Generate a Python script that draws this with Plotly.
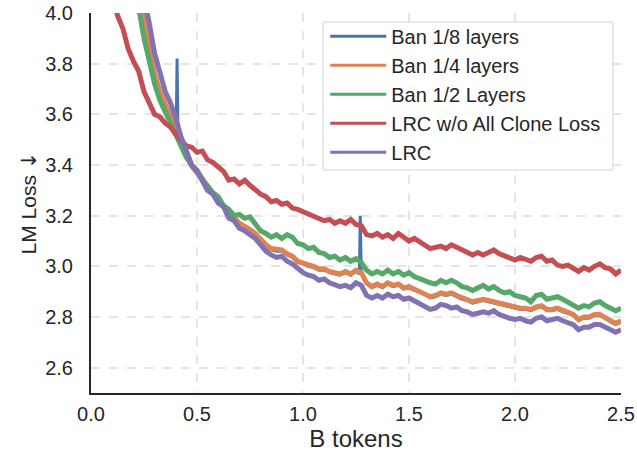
import plotly.graph_objects as go

tokens = [0.100, 0.125, 0.150, 0.175, 0.200, 0.225, 0.250, 0.275, 0.300, 0.325,
          0.350, 0.375, 0.400, 0.425, 0.450, 0.475, 0.500, 0.525, 0.550, 0.575,
          0.600, 0.625, 0.650, 0.675, 0.700, 0.725, 0.750, 0.775, 0.800, 0.825,
          0.850, 0.875, 0.900, 0.925, 0.950, 0.975, 1.000, 1.025, 1.050, 1.075,
          1.100, 1.125, 1.150, 1.175, 1.200, 1.225, 1.250, 1.275, 1.300, 1.325,
          1.350, 1.375, 1.400, 1.425, 1.450, 1.475, 1.500, 1.525, 1.550, 1.575,
          1.600, 1.625, 1.650, 1.675, 1.700, 1.725, 1.750, 1.775, 1.800, 1.825,
          1.850, 1.875, 1.900, 1.925, 1.950, 1.975, 2.000, 2.025, 2.050, 2.075,
          2.100, 2.125, 2.150, 2.175, 2.200, 2.225, 2.250, 2.275, 2.300, 2.325,
          2.350, 2.375, 2.400, 2.425, 2.450, 2.475, 2.500]

ban_1_8 = [4.71, 4.56, 4.41, 4.28, 4.17, 4.085, 3.995, 3.875, 3.76, 3.69,
           3.635, 3.585, 3.535, 3.50, 3.44, 3.395, 3.37, 3.34, 3.30, 3.285,
           3.25, 3.235, 3.20, 3.19, 3.165, 3.155, 3.14, 3.125, 3.10, 3.08,
           3.065, 3.06, 3.06, 3.045, 3.035, 3.015, 3.01, 3.00, 2.995, 2.985,
           2.985, 2.975, 2.97, 2.965, 2.975, 2.965, 2.98, 2.97, 2.93, 2.915,
           2.925, 2.915, 2.93, 2.92, 2.925, 2.91, 2.915, 2.905, 2.90, 2.89,
           2.875, 2.88, 2.89, 2.885, 2.89, 2.88, 2.87, 2.865, 2.855, 2.86,
           2.865, 2.86, 2.855, 2.85, 2.845, 2.84, 2.835, 2.83, 2.83, 2.825,
           2.835, 2.84, 2.825, 2.825, 2.83, 2.82, 2.815, 2.805, 2.785, 2.795,
           2.795, 2.805, 2.805, 2.795, 2.78, 2.77, 2.78]
spike_tokens = [0.402, 0.406, 0.410, 0.416, 1.266, 1.270, 1.274]
spike_loss = [3.53, 3.82, 3.55, 3.51, 2.97, 3.20, 2.98]

ban_1_4 = [4.72, 4.57, 4.42, 4.29, 4.18, 4.09, 4.00, 3.88, 3.76, 3.69,
           3.64, 3.59, 3.54, 3.49, 3.44, 3.395, 3.37, 3.345, 3.30, 3.29,
           3.255, 3.24, 3.205, 3.195, 3.17, 3.16, 3.145, 3.13, 3.105, 3.085,
           3.07, 3.065, 3.065, 3.05, 3.04, 3.02, 3.015, 3.005, 3.00, 2.99,
           2.99, 2.98, 2.975, 2.97, 2.98, 2.97, 2.985, 2.975, 2.935, 2.92,
           2.93, 2.92, 2.935, 2.925, 2.93, 2.915, 2.92, 2.91, 2.905, 2.895,
           2.88, 2.885, 2.895, 2.89, 2.895, 2.885, 2.875, 2.87, 2.86, 2.865,
           2.87, 2.865, 2.86, 2.855, 2.85, 2.845, 2.84, 2.835, 2.835, 2.83,
           2.84, 2.845, 2.83, 2.83, 2.835, 2.825, 2.82, 2.81, 2.79, 2.80,
           2.80, 2.81, 2.81, 2.80, 2.785, 2.775, 2.785]

ban_1_2 = [4.60, 4.45, 4.32, 4.20, 4.10, 4.02, 3.90, 3.80, 3.72, 3.655,
           3.61, 3.565, 3.51, 3.47, 3.43, 3.40, 3.38, 3.345, 3.32, 3.29,
           3.275, 3.24, 3.225, 3.20, 3.205, 3.19, 3.195, 3.165, 3.14, 3.13,
           3.115, 3.125, 3.11, 3.125, 3.115, 3.09, 3.085, 3.07, 3.075, 3.055,
           3.05, 3.035, 3.04, 3.025, 3.035, 3.02, 3.03, 3.015, 2.985, 2.97,
           2.98, 2.97, 2.985, 2.97, 2.98, 2.965, 2.975, 2.96, 2.95, 2.94,
           2.935, 2.93, 2.945, 2.935, 2.945, 2.935, 2.92, 2.915, 2.905, 2.915,
           2.925, 2.91, 2.92, 2.905, 2.895, 2.90, 2.885, 2.88, 2.875, 2.86,
           2.885, 2.89, 2.87, 2.875, 2.88, 2.87, 2.86, 2.85, 2.835, 2.845,
           2.84, 2.855, 2.86, 2.845, 2.835, 2.825, 2.835]

lrc_no_clone = [4.08, 3.99, 3.94, 3.86, 3.81, 3.77, 3.69, 3.65, 3.60, 3.59,
                3.565, 3.55, 3.52, 3.50, 3.475, 3.47, 3.45, 3.455, 3.42, 3.41,
                3.39, 3.375, 3.34, 3.345, 3.325, 3.34, 3.32, 3.30, 3.285, 3.275,
                3.255, 3.26, 3.245, 3.25, 3.23, 3.225, 3.215, 3.21, 3.195, 3.19,
                3.18, 3.185, 3.17, 3.18, 3.17, 3.185, 3.165, 3.16, 3.125, 3.12,
                3.13, 3.115, 3.125, 3.11, 3.13, 3.115, 3.10, 3.11, 3.095, 3.085,
                3.07, 3.075, 3.08, 3.07, 3.085, 3.075, 3.065, 3.06, 3.045, 3.055,
                3.045, 3.055, 3.065, 3.05, 3.04, 3.035, 3.025, 3.035, 3.025, 3.02,
                3.035, 3.04, 3.02, 3.025, 3.005, 3.00, 3.005, 2.99, 2.98, 2.995,
                2.985, 3.00, 3.01, 2.995, 2.99, 2.97, 2.985]

lrc = [4.80, 4.65, 4.50, 4.37, 4.25, 4.15, 4.06, 3.96, 3.84, 3.76,
       3.69, 3.645, 3.585, 3.51, 3.45, 3.40, 3.375, 3.34, 3.30, 3.285,
       3.25, 3.235, 3.19, 3.18, 3.15, 3.14, 3.125, 3.11, 3.085, 3.06,
       3.045, 3.035, 3.04, 3.02, 3.01, 2.99, 2.975, 2.965, 2.96, 2.945,
       2.95, 2.935, 2.93, 2.92, 2.925, 2.915, 2.935, 2.925, 2.885, 2.875,
       2.885, 2.875, 2.89, 2.88, 2.885, 2.87, 2.875, 2.865, 2.855, 2.84,
       2.83, 2.835, 2.85, 2.845, 2.835, 2.84, 2.825, 2.82, 2.81, 2.815,
       2.82, 2.815, 2.825, 2.81, 2.80, 2.795, 2.79, 2.795, 2.785, 2.78,
       2.795, 2.80, 2.785, 2.79, 2.795, 2.785, 2.78, 2.77, 2.75, 2.76,
       2.76, 2.77, 2.77, 2.76, 2.75, 2.74, 2.75]

series_names = ["Ban 1/8 layers", "Ban 1/4 layers", "Ban 1/2 Layers",
                "LRC w/o All Clone Loss", "LRC"]
colors = ["#4C72B0", "#DD8452", "#55A868", "#C44E52", "#8172B3"]

# merge the spikes of the blue run into its series
blue_pts = sorted(list(zip(tokens, ban_1_8)) + list(zip(spike_tokens, spike_loss)))
blue_x = [p[0] for p in blue_pts]
blue_y = [p[1] for p in blue_pts]

fig = go.Figure()
all_series = [(blue_x, blue_y), (tokens, ban_1_4), (tokens, ban_1_2),
              (tokens, lrc_no_clone), (tokens, lrc)]
for (xs, ys), name, c in zip(all_series, series_names, colors):
    fig.add_trace(go.Scatter(x=xs, y=ys, mode="lines", name=name, showlegend=False,
                             legendgroup=name,
                             line=dict(color=c, width=5 if name != "Ban 1/8 layers" else 3)))
# legend entries (thinner sample lines, as in the reference)
for name, c in zip(series_names, colors):
    fig.add_trace(go.Scatter(x=[None], y=[None], mode="lines", name=name,
                             legendgroup=name, line=dict(color=c, width=3)))

# legend frame
fig.add_shape(type="rect", xref="paper", yref="paper",
              x0=(323 - 91) / 530, x1=(613 - 91) / 530,
              y0=1 - (170 - 13) / 380, y1=1 - (22 - 13) / 380,
              line=dict(color="#d5d5d5", width=1), fillcolor="white", layer="above")

font_family = "Liberation Sans, Arial, sans-serif"
fig.update_layout(
    width=637, height=460,
    margin=dict(l=91, r=16, t=13, b=67),
    paper_bgcolor="white", plot_bgcolor="white",
    font=dict(family=font_family, size=20, color="#262626"),
    showlegend=True,
    legend=dict(x=0.442, y=0.990, xanchor="left", yanchor="top",
                bgcolor="rgba(0,0,0,0)", borderwidth=0,
                itemwidth=56,
                font=dict(size=20, color="#262626"), tracegroupgap=0),
)
fig.update_xaxes(range=[0, 2.5], tickvals=[0, 0.5, 1.0, 1.5, 2.0, 2.5],
                 ticktext=["0.0", "0.5", "1.0", "1.5", "2.0", "2.5"],
                 showgrid=True, gridcolor="#e5e5e5", griddash="dash", gridwidth=1.5,
                 showline=True, linecolor="#262626", linewidth=2,
                 ticks="", ticklabelstandoff=2, zeroline=False, automargin=False,
                 ticklabeloverflow="allow",
                 title=dict(text="B tokens", font=dict(size=24), standoff=4))
fig.update_yaxes(range=[2.5, 4.0], tickvals=[2.6, 2.8, 3.0, 3.2, 3.4, 3.6, 3.8, 4.0],
                 ticktext=["2.6", "2.8", "3.0", "3.2", "3.4", "3.6", "3.8", "4.0"],
                 showgrid=True, gridcolor="#e5e5e5", griddash="dash", gridwidth=1.5,
                 showline=True, linecolor="#262626", linewidth=2,
                 ticks="", ticklabelstandoff=12, zeroline=False, automargin=False,
                 ticklabeloverflow="allow",
                 title=dict(text="LM Loss <span style='font-family:DejaVu Sans'>↓</span>",
                            font=dict(size=21), standoff=3))

fig.write_html("out.html", config={"displayModeBar": False},
               post_script="document.body.style.margin='0';")
